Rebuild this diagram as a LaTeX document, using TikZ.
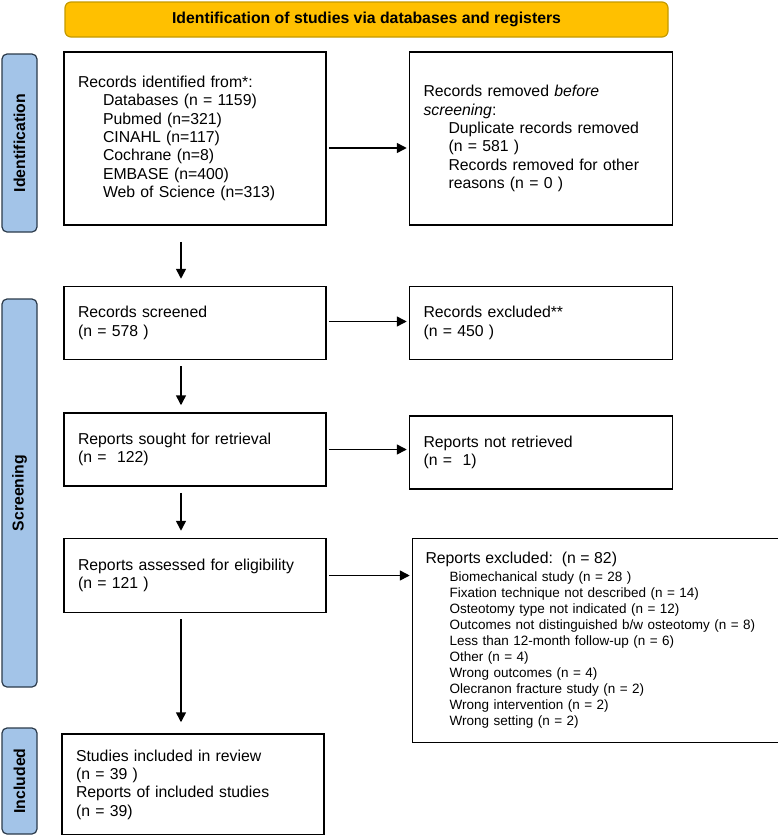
\documentclass[tikz,border=0pt]{standalone}
\usepackage{fontspec}
\setmainfont{Liberation Sans}
\usepackage{tikz}
\usetikzlibrary{positioning, arrows.meta}

\definecolor{headgold}{HTML}{FFC000}
\definecolor{headedge}{HTML}{C49A00}
\definecolor{phasefill}{HTML}{A3C4E8}
\definecolor{phaseedge}{HTML}{2B3A4A}

\newcommand{\txtsize}{\fontsize{15.8}{18.3}\selectfont}
\newcommand{\ind}{\hspace*{25pt}}

\begin{document}
\begin{tikzpicture}[x=1pt,y=-1pt,node distance=82pt,line width=1.5pt,
    >={Triangle[length=10pt,width=10pt]},
    box/.style={draw, align=left, inner xsep=14pt, inner ysep=0pt,
        text width=234pt, minimum height=#1, font=\txtsize},
    head/.style={draw=headedge, fill=headgold, rounded corners=6pt, line width=1.2pt,
        minimum width=603pt, minimum height=35pt, font=\txtsize\bfseries},
    phase/.style={draw=phaseedge, fill=phasefill, rounded corners=5pt, line width=1.2pt,
        rotate=90, minimum height=35pt, inner sep=0pt, font=\txtsize\bfseries},
    side/.style={shorten <=2pt, shorten >=2pt},
    down/.style={shorten <=6pt, shorten >=7pt}]
    \useasboundingbox (0,0) rectangle (778,835);

    % header and phases
    \node[head] (H) at (366.5,19.5) {Identification of studies via databases and registers};
    \node[phase, minimum width=178pt] (PI) at (19.5,143) {Identification};
    \node[phase, minimum width=388pt] (PS) at (19.5,493) {Screening};
    \node[phase, minimum width=106pt] (PN) at (19.5,781) {Included};

    % main column
    \node[box=173pt] (RI) at (195,138.5) {Records identified from*:\\
        \ind Databases (n = 1159)\\
        \ind Pubmed (n=321)\\
        \ind CINAHL (n=117)\\
        \ind Cochrane (n=8)\\
        \ind EMBASE (n=400)\\
        \ind Web of Science (n=313)};
    \node[box=73pt] (RS) [below=60pt of RI] {Records screened\\(n = 578 )};
    \node[box=73pt] (SR) [below=52pt of RS] {Reports sought for retrieval\\(n = \ 122)};
    \node[box=74pt] (AE) [below=51pt of SR] {Reports assessed for eligibility\\(n = 121 )};
    \node[box=101pt, xshift=-2pt] (IN) [below=120pt of AE] {Studies included in review\\
        (n = 39 )\\
        Reports of included studies\\
        (n = 39)};

    % side column
    \node[box=173pt, text width=235pt] (RR) [right=of RI] {Records removed \textit{before}\\
        \textit{screening}:\\
        \ind Duplicate records removed\\
        \ind (n = 581 )\\
        \ind Records removed for other\\
        \ind reasons (n = 0 )};
    \node[box=73pt, text width=235pt] (RE) [right=of RS] {Records excluded**\\(n = 450 )};
    \node[box=73pt, text width=235pt, yshift=-3pt] (NR) [right=of SR] {Reports not retrieved\\(n = \ 1)};
    \node[box=204pt, text width=340pt, inner xsep=13pt, font=\fontsize{13.5}{16}\selectfont]
        (XE) [right=85pt of AE.north east, anchor=north west] {{\txtsize Reports excluded:\ \ (n = 82)}\\[2pt]
        \hspace*{24pt}Biomechanical study (n = 28 )\\
        \hspace*{24pt}Fixation technique not described (n = 14)\\
        \hspace*{24pt}Osteotomy type not indicated (n = 12)\\
        \hspace*{24pt}Outcomes not distinguished b/w osteotomy (n = 8)\\
        \hspace*{24pt}Less than 12-month follow-up (n = 6)\\
        \hspace*{24pt}Other (n = 4)\\
        \hspace*{24pt}Wrong outcomes (n = 4)\\
        \hspace*{24pt}Olecranon fracture study (n = 2)\\
        \hspace*{24pt}Wrong intervention (n = 2)\\
        \hspace*{24pt}Wrong setting (n = 2)};

    \path[->]
    ([yshift=-9.5pt]RI.east) edge[side] ([yshift=-9.5pt]RR.west)
    ([yshift=1.5pt]RS.east) edge[side] ([yshift=1.5pt]RS.east -| RE.west)
    (SR.east) edge[side] (SR.east -| NR.west)
    (AE.east) edge[side] (AE.east -| XE.west)
    ([xshift=-14pt]RI.south) edge[down, shorten <=16pt] ([xshift=-14pt]RS.north)
    ([xshift=-14pt]RS.south) edge[down] ([xshift=-14pt]SR.north)
    ([xshift=-14pt]SR.south) edge[down] ([xshift=-14pt]AE.north)
    ([xshift=-14pt]AE.south) edge[down, shorten >=11pt] ([xshift=-14pt]AE.south |- IN.north)
    ;
\end{tikzpicture}
\end{document}
